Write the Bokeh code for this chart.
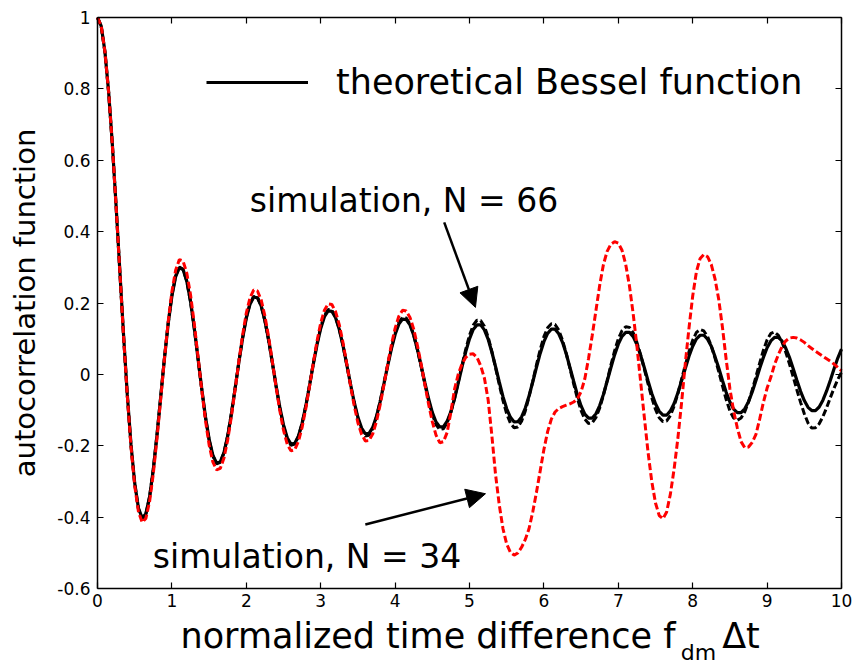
import numpy as np
from bokeh.plotting import figure
from bokeh.models import (Range1d, FixedTicker, LinearAxis, Arrow, NormalHead,
                          Legend, LegendItem, CustomJSTickFormatter)
from bokeh.embed import file_html
from bokeh.resources import INLINE

# ---------------- data ----------------
x_vals = np.linspace(0.0, 10.0, 201)   # normalized time difference, step 0.05

bessel_theory = [
    1.000, 0.976, 0.904, 0.790, 0.643, 0.472, 0.291, 0.111, -0.055, -0.196,
    -0.304, -0.374, -0.402, -0.390, -0.343, -0.266, -0.169, -0.062, 0.045, 0.142,
    0.220, 0.274, 0.299, 0.294, 0.261, 0.205, 0.131, 0.047, -0.038, -0.117,
    -0.181, -0.226, -0.248, -0.245, -0.219, -0.172, -0.110, -0.039, 0.034, 0.101,
    0.158, 0.197, 0.217, 0.215, 0.192, 0.151, 0.097, 0.034, -0.031, -0.091,
    -0.141, -0.177, -0.195, -0.193, -0.173, -0.137, -0.088, -0.031, 0.028, 0.083,
    0.129, 0.162, 0.178, 0.177, 0.159, 0.126, 0.081, 0.028, -0.026, -0.077,
    -0.120, -0.150, -0.166, -0.165, -0.148, -0.117, -0.075, -0.026, 0.024, 0.072,
    0.112, 0.141, 0.155, 0.154, 0.139, 0.110, 0.070, 0.025, -0.023, -0.068,
    -0.106, -0.133, -0.147, -0.146, -0.131, -0.104, -0.067, -0.023, 0.022, 0.064,
    0.100, 0.126, 0.139, 0.139, 0.125, 0.099, 0.063, 0.022, -0.021, -0.062,
    -0.096, -0.120, -0.133, -0.132, -0.119, -0.094, -0.060, -0.021, 0.020, 0.059,
    0.092, 0.115, 0.127, 0.127, 0.114, 0.090, 0.058, 0.020, -0.019, -0.057,
    -0.088, -0.111, -0.122, -0.122, -0.110, -0.087, -0.056, -0.019, 0.019, 0.055,
    0.085, 0.107, 0.118, 0.118, 0.106, 0.084, 0.054, 0.019, -0.018, -0.053,
    -0.082, -0.103, -0.114, -0.114, -0.102, -0.081, -0.052, -0.018, 0.017, 0.051,
    0.079, 0.100, 0.110, 0.110, 0.099, 0.079, 0.050, 0.018, -0.017, -0.050,
    -0.077, -0.097, -0.107, -0.107, -0.096, -0.076, -0.049, -0.017, 0.017, 0.048,
    0.075, 0.094, 0.104, 0.104, 0.094, 0.074, 0.048, 0.017, -0.016, -0.047,
    -0.073, -0.092, -0.101, -0.101, -0.091, -0.072, -0.046, -0.016, 0.016, 0.046,
    0.071,
]

sim_n66 = [
    1.000, 0.975, 0.903, 0.789, 0.641, 0.470, 0.289, 0.109, -0.057, -0.198,
    -0.306, -0.376, -0.404, -0.391, -0.343, -0.265, -0.167, -0.060, 0.047, 0.144,
    0.222, 0.276, 0.301, 0.295, 0.261, 0.204, 0.130, 0.045, -0.040, -0.119,
    -0.183, -0.228, -0.250, -0.246, -0.219, -0.171, -0.108, -0.037, 0.036, 0.103,
    0.160, 0.199, 0.219, 0.216, 0.192, 0.150, 0.095, 0.032, -0.033, -0.094,
    -0.144, -0.180, -0.198, -0.195, -0.174, -0.137, -0.087, -0.029, 0.031, 0.086,
    0.133, 0.166, 0.182, 0.180, 0.161, 0.127, 0.081, 0.027, -0.028, -0.080,
    -0.124, -0.156, -0.172, -0.170, -0.152, -0.119, -0.075, -0.024, 0.027, 0.076,
    0.117, 0.146, 0.160, 0.158, 0.141, 0.111, 0.069, 0.022, -0.027, -0.073,
    -0.112, -0.140, -0.154, -0.152, -0.135, -0.106, -0.066, -0.020, 0.027, 0.071,
    0.110, 0.138, 0.152, 0.151, 0.135, 0.105, 0.065, 0.019, -0.028, -0.073,
    -0.110, -0.136, -0.149, -0.147, -0.131, -0.102, -0.063, -0.019, 0.027, 0.070,
    0.106, 0.131, 0.142, 0.140, 0.124, 0.096, 0.059, 0.017, -0.026, -0.067,
    -0.101, -0.125, -0.137, -0.135, -0.120, -0.094, -0.058, -0.017, 0.026, 0.066,
    0.100, 0.123, 0.134, 0.132, 0.117, 0.090, 0.055, 0.015, -0.026, -0.065,
    -0.098, -0.121, -0.132, -0.130, -0.115, -0.089, -0.054, -0.014, 0.026, 0.064,
    0.096, 0.118, 0.126, 0.122, 0.106, 0.080, 0.046, 0.008, -0.032, -0.070,
    -0.102, -0.122, -0.128, -0.122, -0.104, -0.077, -0.043, -0.006, 0.032, 0.068,
    0.097, 0.115, 0.119, 0.110, 0.091, 0.063, 0.030, -0.006, -0.043, -0.078,
    -0.110, -0.136, -0.150, -0.149, -0.138, -0.118, -0.093, -0.065, -0.038, -0.014,
    0.006,
]

sim_n34 = [
    1.000, 0.976, 0.904, 0.790, 0.642, 0.471, 0.289, 0.108, -0.059, -0.202,
    -0.312, -0.384, -0.414, -0.403, -0.356, -0.278, -0.178, -0.067, 0.045, 0.148,
    0.232, 0.292, 0.322, 0.318, 0.284, 0.224, 0.144, 0.052, -0.041, -0.127,
    -0.197, -0.245, -0.267, -0.263, -0.234, -0.183, -0.117, -0.041, 0.037, 0.110,
    0.172, 0.215, 0.237, 0.234, 0.209, 0.164, 0.105, 0.036, -0.035, -0.101,
    -0.156, -0.195, -0.214, -0.211, -0.188, -0.148, -0.095, -0.033, 0.032, 0.093,
    0.144, 0.180, 0.198, 0.196, 0.176, 0.139, 0.089, 0.030, -0.030, -0.087,
    -0.135, -0.168, -0.186, -0.185, -0.166, -0.131, -0.084, -0.029, 0.028, 0.083,
    0.129, 0.163, 0.180, 0.178, 0.160, 0.127, 0.081, 0.029, -0.028, -0.083,
    -0.132, -0.170, -0.191, -0.188, -0.162, -0.105, -0.040, 0.002, 0.030, 0.048,
    0.057, 0.058, 0.048, 0.025, -0.010, -0.070, -0.170, -0.280, -0.365, -0.432,
    -0.475, -0.498, -0.506, -0.500, -0.484, -0.462, -0.432, -0.385, -0.330, -0.270,
    -0.210, -0.160, -0.125, -0.105, -0.095, -0.090, -0.086, -0.082, -0.077, -0.068,
    -0.048, -0.012, 0.045, 0.110, 0.180, 0.250, 0.308, 0.345, 0.365, 0.372,
    0.368, 0.348, 0.308, 0.248, 0.170, 0.080, -0.020, -0.120, -0.218, -0.300,
    -0.360, -0.395, -0.404, -0.385, -0.335, -0.265, -0.180, -0.080, 0.030, 0.130,
    0.220, 0.288, 0.325, 0.336, 0.330, 0.308, 0.268, 0.210, 0.132, 0.042,
    -0.040, -0.102, -0.150, -0.188, -0.205, -0.203, -0.190, -0.168, -0.125, -0.078,
    -0.038, -0.008, 0.028, 0.055, 0.078, 0.094, 0.102, 0.104, 0.102, 0.097,
    0.090, 0.081, 0.073, 0.065, 0.058, 0.051, 0.044, 0.037, 0.029, 0.020,
    0.010,
]

x_ticks = [0, 1, 2, 3, 4, 5, 6, 7, 8, 9, 10]
x_tick_labels = ["0", "1", "2", "3", "4", "5", "6", "7", "8", "9", "10"]
y_ticks = [-0.6, -0.4, -0.2, 0.0, 0.2, 0.4, 0.6, 0.8, 1.0]
y_tick_labels = ["-0.6", "-0.4", "-0.2", "0", "0.2", "0.4", "0.6", "0.8", "1"]

legend_text = "theoretical Bessel function"
label_n66 = "simulation, N = 66"
label_n34 = "simulation, N = 34"
x_title_main = "normalized time difference f"
x_title_sub = "dm"
x_title_tail = "\u0394t"
y_title = "autocorrelation function"

FONT = "DejaVu Sans"

# The frame spans the whole canvas; the plot box is drawn by axes fixed at
# the data limits.
X_MIN, X_MAX = 0, 10
Y_MIN, Y_MAX = -0.6, 1.0
PX_PER_Y = 357.0     # pixels per y unit
TOP_PX = 17.0        # pixel row of y = 1

p = figure(width=852, height=663,
           x_range=Range1d(-1.3038, 10.1478), y_range=Range1d(-0.8095, 1.0476),
           output_backend="svg", toolbar_location=None, min_border=0)
p.background_fill_color = "white"
p.border_fill_color = "white"
p.outline_line_color = None
p.xgrid.visible = False
p.ygrid.visible = False

blank = CustomJSTickFormatter(code="return ''")


def style_axis(ax, ticks, labels=None):
    ax.ticker = FixedTicker(ticks=ticks)
    if labels is not None:
        ax.major_label_overrides = dict(zip(ticks, labels))
        ax.major_label_text_font_size = "17px"
    else:
        ax.formatter = blank
        ax.major_label_text_font_size = "1px"
    ax.major_tick_in = 6
    ax.major_tick_out = 0
    ax.minor_tick_line_color = None
    ax.axis_line_width = 1.5
    ax.axis_line_color = "black"
    ax.major_tick_line_width = 1.2
    ax.major_tick_line_color = "black"
    ax.major_label_text_font = FONT
    ax.major_label_text_color = "black"


xa = p.xaxis[0]
ya = p.yaxis[0]
style_axis(xa, x_ticks, x_tick_labels)
style_axis(ya, y_ticks, y_tick_labels)
xa.axis_label = None
xa.fixed_location = Y_MIN
xa.bounds = (X_MIN, X_MAX)
xa.major_label_standoff = 5
ya.fixed_location = X_MIN
ya.bounds = (Y_MIN, Y_MAX)
ya.major_label_standoff = 7
ya.axis_label = y_title
ya.axis_label_standoff = 12
ya.axis_label_text_font = FONT
ya.axis_label_text_font_size = "29px"
ya.axis_label_text_font_style = "normal"
ya.axis_label_text_color = "black"

top_ax = LinearAxis()
style_axis(top_ax, x_ticks)
top_ax.fixed_location = Y_MAX
top_ax.bounds = (X_MIN, X_MAX)
top_ax.major_label_standoff = 0
right_ax = LinearAxis()
style_axis(right_ax, y_ticks)
right_ax.fixed_location = X_MAX
right_ax.bounds = (Y_MIN, Y_MAX)
right_ax.major_label_standoff = 0
p.add_layout(top_ax, "above")
p.add_layout(right_ax, "right")


def text_axis(text, center_x, top_px, size):
    """A bare axis (no line, no ticks) whose label carries a free text."""
    ax = LinearAxis(ticker=FixedTicker(ticks=[center_x]), formatter=blank,
                    major_label_text_font_size="1px", major_label_standoff=0,
                    major_tick_in=0, major_tick_out=0, minor_tick_line_color=None,
                    axis_line_color=None, major_tick_line_color=None,
                    axis_label=text, axis_label_standoff=0,
                    axis_label_text_font=FONT, axis_label_text_font_size=f"{size}px",
                    axis_label_text_font_style="normal", axis_label_text_color="black")
    ax.fixed_location = 1.0 - (top_px - 1 - TOP_PX) / PX_PER_Y
    ax.bounds = (center_x - 0.3, center_x + 0.3)
    p.add_layout(ax, "below")
    return ax


# ---------------- curves ----------------
r_theory = p.line(x_vals, bessel_theory, line_color="black", line_width=3.2)
r_66 = p.line(x_vals, sim_n66, line_color="black", line_width=3, line_dash="7 3")
r_34 = p.line(x_vals, sim_n34, line_color="#ff0000", line_width=3, line_dash="7 3")

# ---------------- legend ----------------
legend = Legend(items=[LegendItem(label=legend_text, renderers=[r_theory])],
                location=(206, 561), glyph_width=102, glyph_height=20,
                label_standoff=28, label_text_font=FONT, label_text_font_size="35px",
                label_text_color="black", padding=0, margin=0,
                border_line_color=None, background_fill_alpha=0)
p.add_layout(legend)

# ---------------- annotations (texts + arrows) ----------------
text_axis(label_n66, 4.12, 181.0, 33)
text_axis(label_n34, 2.82, 537.0, 33)

p.add_layout(Arrow(x_start=4.66, y_start=0.426, x_end=5.08, y_end=0.188,
                   line_color="black", line_width=2.5,
                   end=NormalHead(size=19, fill_color="black", line_color="black")))
p.add_layout(Arrow(x_start=3.60, y_start=-0.420, x_end=5.215, y_end=-0.334,
                   line_color="black", line_width=2.5,
                   end=NormalHead(size=19, fill_color="black", line_color="black")))

# x title: main text, subscript and tail
text_axis(x_title_main, 4.440, 615.5, 35)
text_axis(x_title_sub, 8.080, 639.5, 22)
text_axis(x_title_tail, 8.650, 615.5, 35)

open("out.html", "w").write(file_html(p, INLINE))
